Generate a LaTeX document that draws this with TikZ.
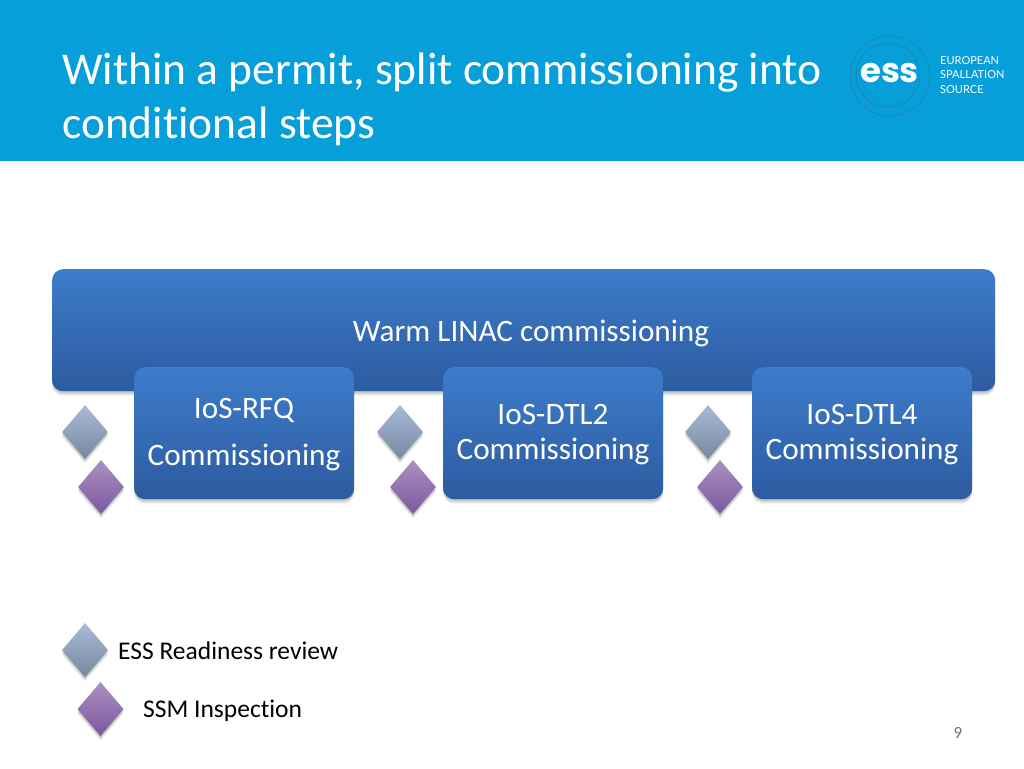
\documentclass[tikz,border=0pt]{standalone}
\usepackage{fontspec}
\setmainfont[RawFeature=-liga;-clig]{Carlito}
\newfontfamily\logofont{Lato}
\newfontfamily\essfont{Poppins}
\usetikzlibrary{shapes.geometric,shadows}
\definecolor{headerblue}{HTML}{069FD9}
\definecolor{boxtop}{HTML}{3D7CCB}
\definecolor{boxbot}{HTML}{2D5B9F}
\definecolor{ringcol}{HTML}{2A7BA6}
\definecolor{diatopb}{HTML}{A9BAD8}
\definecolor{diabotb}{HTML}{76899F}
\definecolor{diatopp}{HTML}{AC90C0}
\definecolor{diabotp}{HTML}{7A58A0}
\tikzset{
  x=1pt,y=-1pt,
  softshadow/.style={
    general shadow={shadow xshift=0pt,shadow yshift=-1pt,opacity=.07,fill=black},
    general shadow={shadow xshift=0pt,shadow yshift=-2pt,opacity=.07,fill=black},
    general shadow={shadow xshift=0pt,shadow yshift=-3pt,opacity=.06,fill=black},
    general shadow={shadow xshift=0pt,shadow yshift=-4pt,opacity=.05,fill=black},
    general shadow={shadow xshift=0pt,shadow yshift=-5pt,opacity=.04,fill=black}},
  bigbox/.style={rounded corners=11pt,draw=none,top color=boxtop,bottom color=boxbot,softshadow,
     inner sep=0pt,anchor=north west},
  bluediamond/.style={diamond,inner sep=0pt,minimum width=46pt,minimum height=54pt,draw=none,
     top color=diatopb,bottom color=diabotb,softshadow},
  purplediamond/.style={diamond,inner sep=0pt,minimum width=46pt,minimum height=54pt,draw=none,
     top color=diatopp,bottom color=diabotp,softshadow},
  titlelabel/.style={anchor=base west,inner sep=0pt,text=white,font=\fontsize{45.5}{54}\selectfont},
  boxlabel/.style={font=\fontsize{31.2}{37}\selectfont,text=white,inner sep=0pt,anchor=base},
  legendlabel/.style={font=\fontsize{25.5}{30}\selectfont,text=black,anchor=base west,inner sep=0pt},
  logolabel/.style={anchor=base west,inner sep=0pt,text=white,font=\logofont\fontsize{11}{11}\selectfont},
  ring/.style={draw=ringcol,line width=.5pt},
}
\begin{document}
\begin{tikzpicture}
\useasboundingbox (0,0) rectangle (1024,768);
\fill[white] (0,0) rectangle (1024,768);
\fill[headerblue] (0,0) rectangle (1024,160.5);
% title
\node[titlelabel] (title1) at (62,84) {Within a permit, split commissioning into};
\node[titlelabel] (title2) at (62,138) {conditional steps};
% logo
\draw[ring] (890,76) circle (40);
\draw[ring] (888,75) circle (32);
\draw[ring,densely dotted] (889,77) circle (27);
\node[text=white,font=\essfont\bfseries\fontsize{34}{34}\selectfont,inner sep=0pt] (esslogo) at (889.5,73) {ess};
\node[logolabel] (logo1) at (940,64) {EUROPEAN};
\node[logolabel] (logo2) at (940,78.5) {SPALLATION};
\node[logolabel] (logo3) at (940,93) {SOURCE};
% main box
\node[bigbox,minimum width=943pt,minimum height=122pt] (warm) at (52,269) {};
\node[boxlabel] (warmtext) at (531,341.5) {Warm LINAC commissioning};
% sub boxes
\node[bigbox,minimum width=220pt,minimum height=132pt] (rfq) at (134,367) {};
\node[bigbox,minimum width=220pt,minimum height=132pt] (dtl2) at (443,367) {};
\node[bigbox,minimum width=220pt,minimum height=132pt] (dtl4) at (752,367) {};
\node[boxlabel] (rfqa) at (244,418) {IoS-RFQ};
\node[boxlabel] (rfqb) at (244,465.5) {Commissioning};
\node[boxlabel] (dtl2a) at (553,424) {IoS-DTL2};
\node[boxlabel] (dtl2b) at (553,459) {Commissioning};
\node[boxlabel] (dtl4a) at (862,424) {IoS-DTL4};
\node[boxlabel] (dtl4b) at (862,459) {Commissioning};
% diamonds
\node[bluediamond] (b1) at (85,432) {};
\node[purplediamond] (p1) at (101,487) {};
\node[bluediamond] (b2) at (400,432) {};
\node[purplediamond] (p2) at (413,487) {};
\node[bluediamond] (b3) at (708,432) {};
\node[purplediamond] (p3) at (720,487) {};
% legend
\node[bluediamond] (lb) at (85,650) {};
\node[purplediamond] (lp) at (100.5,709) {};
\node[legendlabel] (ltext1) at (118,659) {ESS Readiness review};
\node[legendlabel] (ltext2) at (143,717) {SSM Inspection};
% page number
\node[anchor=base,inner sep=0pt,text=black!55,font=\fontsize{17}{20}\selectfont] (pagenum) at (958,738) {9};
\end{tikzpicture}
\end{document}
